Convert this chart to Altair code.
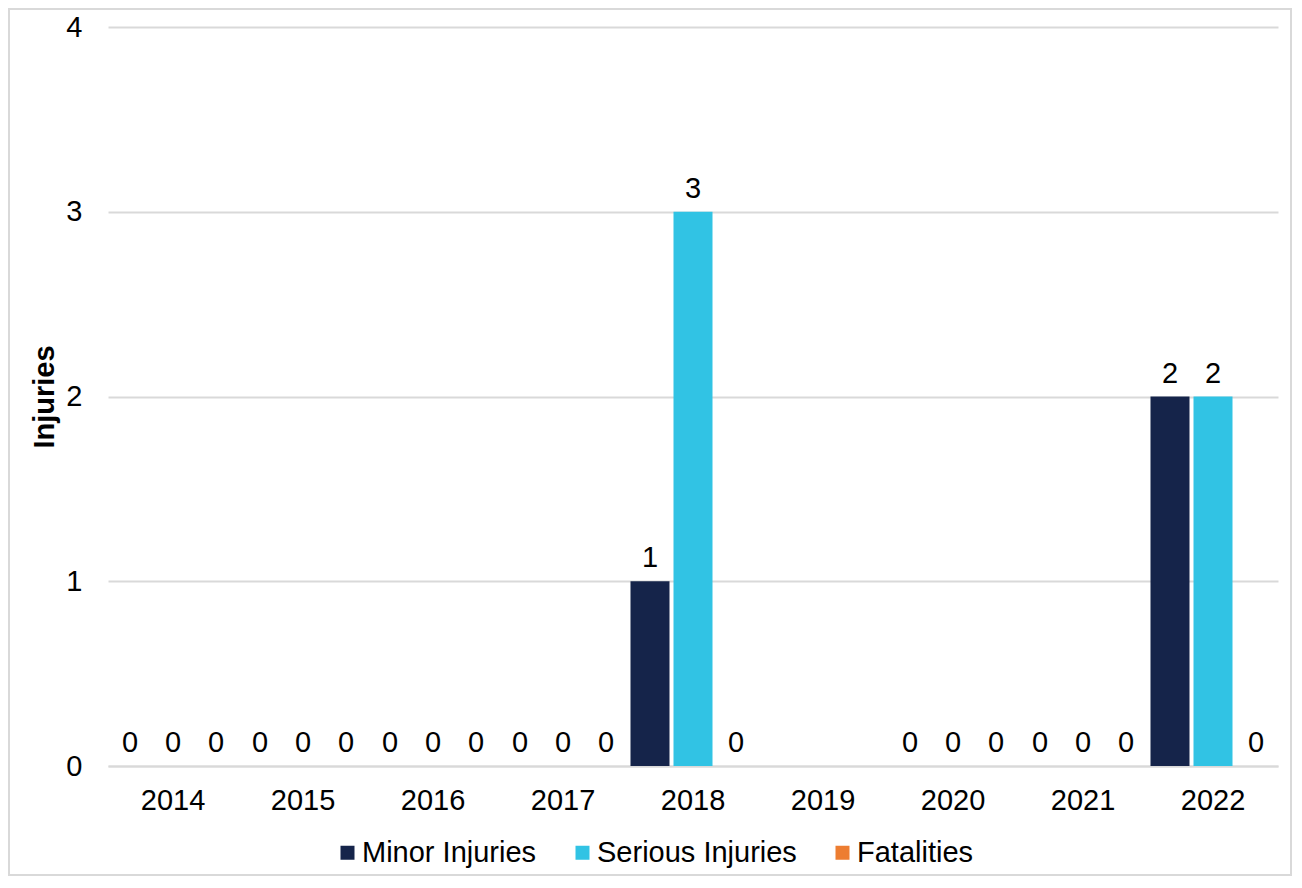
import altair as alt
import pandas as pd

# values (2019 has no data)
years = ["2014", "2015", "2016", "2017", "2018", "2019", "2020", "2021", "2022"]
series = ["Minor Injuries", "Serious Injuries", "Fatalities"]
minor = [0, 0, 0, 0, 1, None, 0, 0, 2]
serious = [0, 0, 0, 0, 3, None, 0, 0, 2]
fatal = [0, 0, 0, 0, 0, None, 0, 0, 0]
colors = ["#15244A", "#31C3E4", "#ED7D31"]

rows = []
for name, vals in zip(series, [minor, serious, fatal]):
    for yr, v in zip(years, vals):
        rows.append({"year": yr, "series": name, "value": v})
df = pd.DataFrame(rows)

FONT = "Liberation Sans"
GRID = "#D9D9D9"
FS = 29

x = alt.X("year:N",
          scale=alt.Scale(domain=years, paddingInner=0, paddingOuter=0),
          axis=alt.Axis(title=None, labelAngle=0, ticks=False, labelPadding=20,
                        labelFontSize=FS, labelColor="black",
                        domainColor=GRID, domainWidth=2))
x_off = alt.XOffset("series:N",
                    scale=alt.Scale(domain=series, paddingInner=0.093, paddingOuter=0.058))
y = alt.Y("value:Q",
          scale=alt.Scale(domain=[0, 4]),
          axis=alt.Axis(values=[0, 1, 2, 3, 4], format="d", domain=False, ticks=False,
                        labelPadding=26, labelFontSize=FS, labelColor="black",
                        gridColor=GRID, gridWidth=2,
                        title="Injuries", titleFontSize=FS, titleFontWeight="bold",
                        titleColor="black", titleAngle=-90, titleX=-64, titleY=369.5,
                        titleAlign="center", titleBaseline="middle"))

base = alt.Chart(df).transform_filter("isValid(datum.value)")

bars = base.mark_bar().encode(
    x=x, xOffset=x_off, y=y,
    color=alt.Color("series:N",
                    scale=alt.Scale(domain=series, range=colors),
                    legend=alt.Legend(title=None, orient="none", legendX=225, legendY=811,
                                      direction="horizontal", symbolType="square",
                                      symbolSize=196, symbolStrokeWidth=0,
                                      labelFontSize=FS, labelColor="black", labelLimit=0,
                                      labelOffset=0, columnPadding=31)),
)

labels = base.mark_text(dy=-14, baseline="alphabetic", fontSize=FS, color="black").encode(
    x=x, xOffset=x_off, y=y,
    text=alt.Text("value:Q", format="d"),
)

# light grey frame round the whole picture
frame = alt.Chart(pd.DataFrame({"a": [0]})).mark_rect(
    filled=False, stroke=GRID, strokeWidth=2
).encode(x=alt.value(-99), x2=alt.value(1183), y=alt.value(-18), y2=alt.value(848))

chart = (
    alt.layer(frame, bars, labels)
    .properties(width=1170, height=739,
                autosize=alt.AutoSizeParams(type="none"),
                padding={"left": 100, "top": 19, "right": 14, "bottom": 110})
    .configure(font=FONT)
    .configure_view(stroke=None)
)

chart.save("out.html", embed_options={"renderer": "svg", "actions": False})
